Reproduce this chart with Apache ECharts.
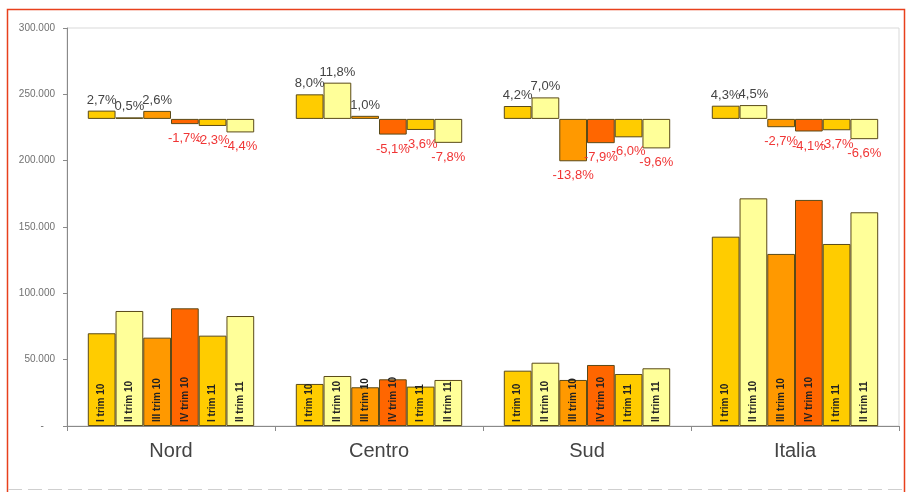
<!DOCTYPE html>
<html>
<head>
<meta charset="utf-8">
<script src="https://cdn.jsdelivr.net/npm/echarts@6/dist/echarts.min.js"></script>
<style>html,body{margin:0;padding:0;background:#fff;}#c{width:908px;height:492px;}</style>
</head>
<body>
<div id="c"></div>
<script>
var categories = ['Nord', 'Centro', 'Sud', 'Italia'];
var quarters = ['I trim 10', 'II trim 10', 'III trim 10', 'IV trim 10', 'I trim 11', 'II trim 11'];
var yTicks = [0, 50000, 100000, 150000, 200000, 250000, 300000];

// absolute values per quarter (Nord, Centro, Sud, Italia)
var v_I_10   = [69900, 31700, 41700, 142700];
var v_II_10  = [86700, 37700, 47700, 171600];
var v_III_10 = [66600, 29200, 34700, 129700];
var v_IV_10  = [88700, 35200, 46000, 170400];
var v_I_11   = [68100, 29700, 39200, 137200];
var v_II_11  = [82900, 34700, 43500, 161100];

// percentage changes per quarter (Nord, Centro, Sud, Italia)
var p_I_10   = [2.7, 8.0, 4.2, 4.3];
var p_II_10  = [0.5, 11.8, 7.0, 4.5];
var p_III_10 = [2.6, 1.0, -13.8, -2.7];
var p_IV_10  = [-1.7, -5.1, -7.9, -4.1];
var p_I_11   = [-2.3, -3.6, -6.0, -3.7];
var p_II_11  = [-4.4, -7.8, -9.6, -6.6];

var values = [v_I_10, v_II_10, v_III_10, v_IV_10, v_I_11, v_II_11];
var pcts = [p_I_10, p_II_10, p_III_10, p_IV_10, p_I_11, p_II_11];
var colors = ['#FFCC00', '#FFFF99', '#FF9900', '#FF6600', '#FFCC00', '#FFFF99'];

function fmtThousands(v) {
  if (v === 0) return '-    ';
  return String(v).replace(/\B(?=(\d{3})+(?!\d))/g, '.');
}
function fmtPct(v) {
  return v.toFixed(1).replace('.', ',') + '%';
}

var series = [];
quarters.forEach(function (q, i) {
  series.push({
    name: q,
    type: 'bar',
    xAxisIndex: 0,
    yAxisIndex: 0,
    barGap: '0%',
    barCategoryGap: '20%',
    data: values[i],
    itemStyle: { color: colors[i], borderColor: '#5a4a18', borderWidth: 1 },
    label: {
      show: true,
      position: 'insideBottom',
      rotate: 90,
      align: 'left',
      verticalAlign: 'middle',
      distance: 4,
      formatter: function () { return q; },
      fontFamily: 'Liberation Sans, Arial, sans-serif',
      fontSize: 10,
      fontWeight: 'bold',
      color: '#222'
    },
    silent: true,
    animation: false
  });
});
quarters.forEach(function (q, i) {
  series.push({
    name: q + ' %',
    type: 'bar',
    xAxisIndex: 1,
    yAxisIndex: 1,
    barGap: '0%',
    barCategoryGap: '20%',
    data: pcts[i].map(function (v) {
      var neg = v < 0;
      return {
        value: v,
        label: {
          position: neg ? 'bottom' : 'top',
          color: neg ? '#f03535' : '#444',
          distance: neg ? 8 : 4
        }
      };
    }),
    itemStyle: { color: colors[i], borderColor: '#5a4a18', borderWidth: 1 },
    label: {
      show: true,
      formatter: function (p) { return fmtPct(p.value); },
      fontFamily: 'Liberation Sans, Arial, sans-serif',
      fontSize: 13
    },
    silent: true,
    animation: false
  });
});

var chart = echarts.init(document.getElementById('c'), null, { renderer: 'canvas' });
chart.setOption({
  animation: false,
  backgroundColor: '#ffffff',
  grid: {
    left: 67, right: 9, top: 28, bottom: 66,
    show: true, borderColor: '#d9d9d9', borderWidth: 1, backgroundColor: 'transparent'
  },
  xAxis: [{
    type: 'category',
    data: categories,
    axisLine: { lineStyle: { color: '#8a8a8a', width: 1 } },
    axisTick: { show: true, length: 5, lineStyle: { color: '#8a8a8a' } },
    axisLabel: { fontFamily: 'Liberation Sans, Arial, sans-serif', fontSize: 20, color: '#444', margin: 15 }
  }, {
    type: 'category',
    data: categories,
    show: false
  }],
  yAxis: [{
    type: 'value',
    min: yTicks[0],
    max: yTicks[yTicks.length - 1],
    interval: yTicks[1] - yTicks[0],
    splitLine: { show: false },
    axisLine: { show: true, lineStyle: { color: '#8a8a8a', width: 1 } },
    axisTick: { show: true, length: 4, lineStyle: { color: '#8a8a8a' } },
    axisLabel: {
      formatter: fmtThousands,
      fontFamily: 'Liberation Sans, Arial, sans-serif',
      fontSize: 10,
      color: '#707070',
      margin: 12
    }
  }, {
    type: 'value',
    min: -100,
    max: 29.6,
    show: false,
    splitLine: { show: false }
  }],
  series: series,
  graphic: [{
    type: 'rect',
    shape: { x: 7.5, y: 9.5, width: 897, height: 500 },
    style: { fill: 'none', stroke: '#e8401c', lineWidth: 1.5 },
    silent: true
  }, {
    type: 'line',
    shape: { x1: 8, y1: 489.5, x2: 904, y2: 489.5 },
    style: { stroke: '#cfcfcf', lineWidth: 1, lineDash: [14, 6] },
    silent: true
  }]
});
</script>
</body>
</html>
